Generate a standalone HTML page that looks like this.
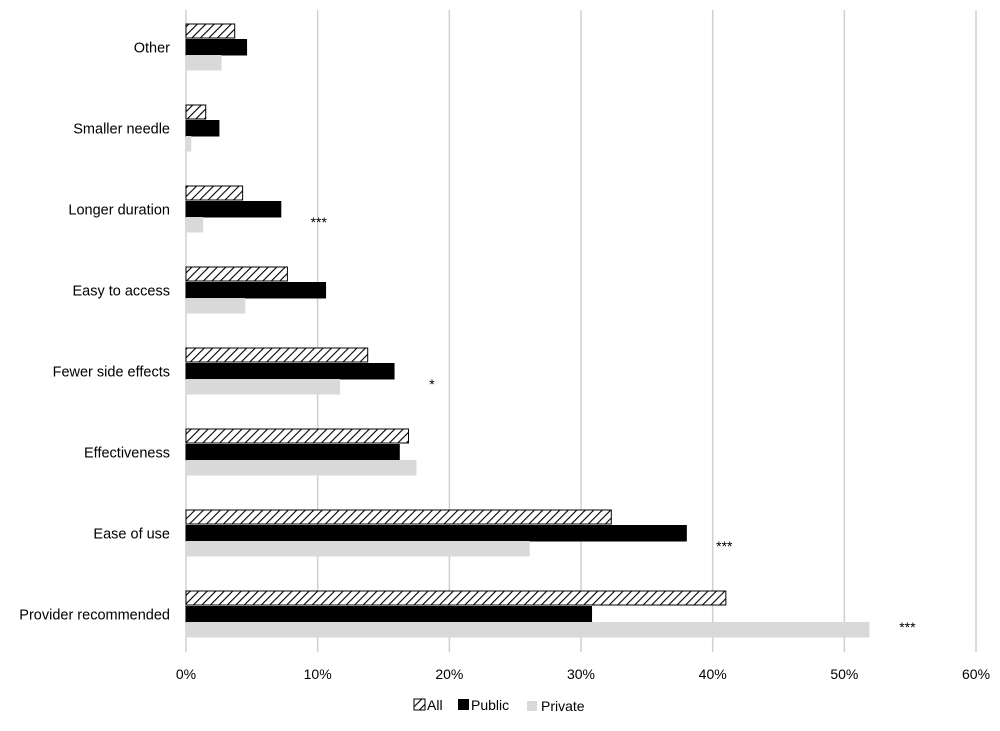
<!DOCTYPE html>
<html><head><meta charset="utf-8"><style>
body{margin:0;background:#fff;}
svg text{font-family:"Liberation Sans",Arial,sans-serif;}
</style></head><body>
<svg id="chart" width="1000" height="726" viewBox="0 0 1000 726" xmlns="http://www.w3.org/2000/svg">
<defs>
<pattern id="hatch" patternUnits="userSpaceOnUse" width="6" height="6" patternTransform="rotate(45)">
<rect width="6" height="6" fill="#fff"/><line x1="0" y1="0" x2="0" y2="6" stroke="#000" stroke-width="2.2"/>
</pattern>
</defs>
<g id="grid"></g>
<g id="bars"></g>
<g id="labels"></g>
<g id="ticks"></g>
<g id="stars"></g>
<g>
<rect x="414" y="699" width="11" height="11" fill="url(#hatch)" stroke="#000" stroke-width="1"/>
<text x="427" y="710" font-size="14">All</text>
<rect x="458" y="699" width="11" height="11" fill="#000"/>
<text x="471" y="710" font-size="14">Public</text>
<rect x="527" y="701" width="10" height="10" fill="#d9d9d9"/>
<text x="541" y="711" font-size="14">Private</text>
</g>
</svg>
<script>
const categories=["Other","Smaller needle","Longer duration","Easy to access","Fewer side effects","Effectiveness","Ease of use","Provider recommended"];
const allValues=[3.7,1.5,4.3,7.7,13.8,16.9,32.3,41.0];
const publicValues=[4.6,2.5,7.2,10.6,15.8,16.2,38.0,30.8];
const privateValues=[2.7,0.4,1.3,4.5,11.7,17.5,26.1,51.9];
const tickValues=[0,10,20,30,40,50,60];
const significance=["","","***","","*","","***","***"];

const NS="http://www.w3.org/2000/svg";
const x0=186,pxPer=131.67,groupTop=24,groupStep=81,barH=15.5;
const xs=v=>x0+v*pxPer/10;
const gy=i=>groupTop+i*groupStep;
function mk(tag,attrs,parent){const e=document.createElementNS(NS,tag);for(const k in attrs)e.setAttribute(k,attrs[k]);parent.appendChild(e);return e;}
const grid=document.getElementById('grid'),bars=document.getElementById('bars'),labels=document.getElementById('labels'),ticks=document.getElementById('ticks'),stars=document.getElementById('stars');
tickValues.forEach(t=>{
  const l=mk('line',{x1:xs(t),x2:xs(t),y1:10,y2:652,stroke:'#d0d0d0','stroke-width':1.5},grid);
  
  
  const tx=mk('text',{x:xs(t),y:679,'text-anchor':'middle','font-size':14},ticks);
  
  
  tx.textContent=t+'%';
});
const series=[[allValues,'url(#hatch)','bar-all'],[publicValues,'#000','bar-public'],[privateValues,'#d9d9d9','bar-private']];
categories.forEach((c,i)=>{
  series.forEach((s,j)=>{
    const w=xs(s[0][i])-x0;
    const r=mk('rect',{x:x0,y:gy(i)+j*barH,width:w,height:barH-(j==0?1.5:0),fill:s[1],stroke:j<2?'#000':'none','stroke-width':1},bars);
    
    
  });
  const t=mk('text',{x:170,y:gy(i)+barH*1.5+5,'text-anchor':'end','font-size':14.5},labels);
  
  
  t.textContent=c;
  if(significance[i]){
    const mx=Math.max(allValues[i],publicValues[i],privateValues[i]);
    const st=mk('text',{x:xs(mx)+38,y:gy(i)+barH*2+10,'text-anchor':'middle','font-size':14},stars);
    
    
    st.textContent=significance[i];
  }
});
</script>
</body></html>
